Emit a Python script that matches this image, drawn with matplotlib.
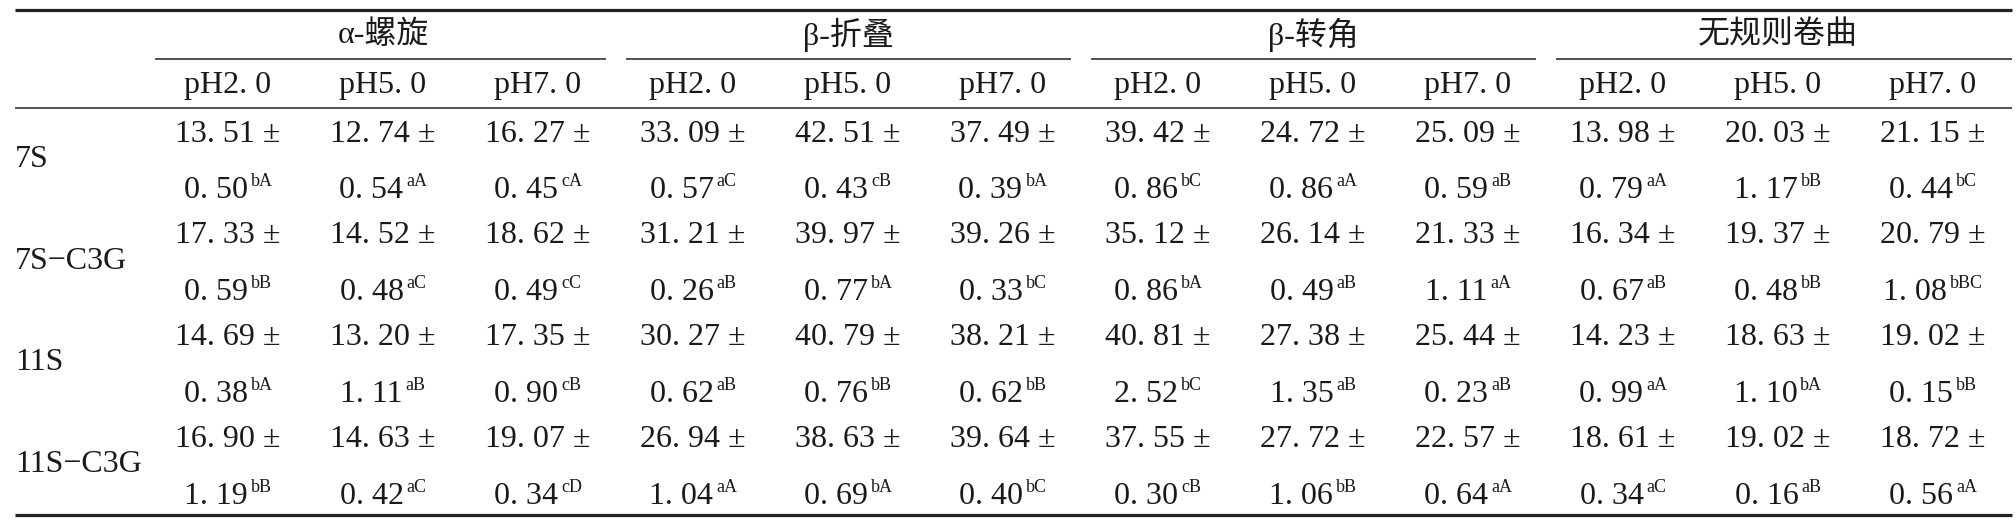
import matplotlib
matplotlib.use("Agg")
import matplotlib.pyplot as plt

plt.rcParams['font.family'] = ['Liberation Serif', 'Noto Sans CJK SC', 'DejaVu Sans']

# table content
groups = ['α-螺旋', 'β-折叠', 'β-转角', '无规则卷曲']
ph_labels = ['pH2. 0', 'pH5. 0', 'pH7. 0']
samples = ['7S', '7S−C3G', '11S', '11S−C3G']

means_7s = [13.51, 12.74, 16.27, 33.09, 42.51, 37.49, 39.42, 24.72, 25.09, 13.98, 20.03, 21.15]
means_7s_c3g = [17.33, 14.52, 18.62, 31.21, 39.97, 39.26, 35.12, 26.14, 21.33, 16.34, 19.37, 20.79]
means_11s = [14.69, 13.20, 17.35, 30.27, 40.79, 38.21, 40.81, 27.38, 25.44, 14.23, 18.63, 19.02]
means_11s_c3g = [16.90, 14.63, 19.07, 26.94, 38.63, 39.64, 37.55, 27.72, 22.57, 18.61, 19.02, 18.72]

sd_7s = [0.50, 0.54, 0.45, 0.57, 0.43, 0.39, 0.86, 0.86, 0.59, 0.79, 1.17, 0.44]
sd_7s_c3g = [0.59, 0.48, 0.49, 0.26, 0.77, 0.33, 0.86, 0.49, 1.11, 0.67, 0.48, 1.08]
sd_11s = [0.38, 1.11, 0.90, 0.62, 0.76, 0.62, 2.52, 1.35, 0.23, 0.99, 1.10, 0.15]
sd_11s_c3g = [1.19, 0.42, 0.34, 1.04, 0.69, 0.40, 0.30, 1.06, 0.64, 0.34, 0.16, 0.56]

sig_7s = ['bA', 'aA', 'cA', 'aC', 'cB', 'bA', 'bC', 'aA', 'aB', 'aA', 'bB', 'bC']
sig_7s_c3g = ['bB', 'aC', 'cC', 'aB', 'bA', 'bC', 'bA', 'aB', 'aA', 'aB', 'bB', 'bBC']
sig_11s = ['bA', 'aB', 'cB', 'aB', 'bB', 'bB', 'bC', 'aB', 'aB', 'aA', 'bA', 'bB']
sig_11s_c3g = ['bB', 'aC', 'cD', 'aA', 'bA', 'bC', 'cB', 'bB', 'aA', 'aC', 'aB', 'aA']

means = [means_7s, means_7s_c3g, means_11s, means_11s_c3g]
sds = [sd_7s, sd_7s_c3g, sd_11s, sd_11s_c3g]
sigs = [sig_7s, sig_7s_c3g, sig_11s, sig_11s_c3g]


def fmt(v):
    return f"{v:.2f}".replace('.', '. ')


W, H = 2016, 528
fig = plt.figure(figsize=(W / 100, H / 100), dpi=100)
ax = fig.add_axes([0, 0, 1, 1])
ax.set_xlim(0, W)
ax.set_ylim(H, 0)
ax.axis('off')
renderer = fig.canvas.get_renderer()

fs = 23
fs_sup = 13
tc = '#1a1a1a'
lc = '#222222'

x0 = 228      # first column centre
dx = 155      # column step
left, right = 15, 2012
col_x = [x0 + dx * k for k in range(12)]

# rules
ax.plot([left, right], [9.5, 9.5], color=lc, lw=2.3, solid_capstyle='butt')
ax.plot([left, right], [108, 108], color=lc, lw=1.1, solid_capstyle='butt')
ax.plot([left, right], [515, 515], color=lc, lw=2.3, solid_capstyle='butt')

# group headers and their underlines
for g, name in enumerate(groups):
    c0 = col_x[3 * g]
    c2 = col_x[3 * g + 2]
    xa = c0 - 73 if g == 0 else c0 - dx / 2 + 10
    xb = right if g == 3 else c2 + dx / 2 - 10
    ax.plot([xa, xb], [59, 59], color=lc, lw=1.1, solid_capstyle='butt')
    ax.text((c0 + c2) / 2, 35, name, ha='center', va='center', fontsize=fs, color=tc)
    for j, ph in enumerate(ph_labels):
        ax.text(col_x[3 * g + j], 86, ph, ha='center', va='center', fontsize=fs, color=tc)

# body
row_top = 131
row_step = 101.7
gap = 3
for i, s in enumerate(samples):
    y1 = row_top + i * row_step
    y2 = y1 + 57
    ax.text(left, (y1 + y2) / 2, s, ha='left', va='center', fontsize=fs, color=tc)
    for k in range(12):
        ax.text(col_x[k], y1 + 10.5, fmt(means[i][k]) + ' ±', ha='center',
                va='baseline', fontsize=fs, color=tc)
        # sd value with significance letters as a small superscript
        yb = y2 + 10.5
        base = ax.text(0, yb, fmt(sds[i][k]), ha='left', va='baseline',
                       fontsize=fs, color=tc)
        sup = ax.text(0, yb - 12, sigs[i][k], ha='left', va='baseline',
                      fontsize=fs_sup, color=tc)
        wb = base.get_window_extent(renderer).width
        ws = sup.get_window_extent(renderer).width
        start = col_x[k] - (wb + gap + ws) / 2
        base.set_x(start)
        sup.set_x(start + wb + gap)

fig.savefig('out.png', dpi=100)
